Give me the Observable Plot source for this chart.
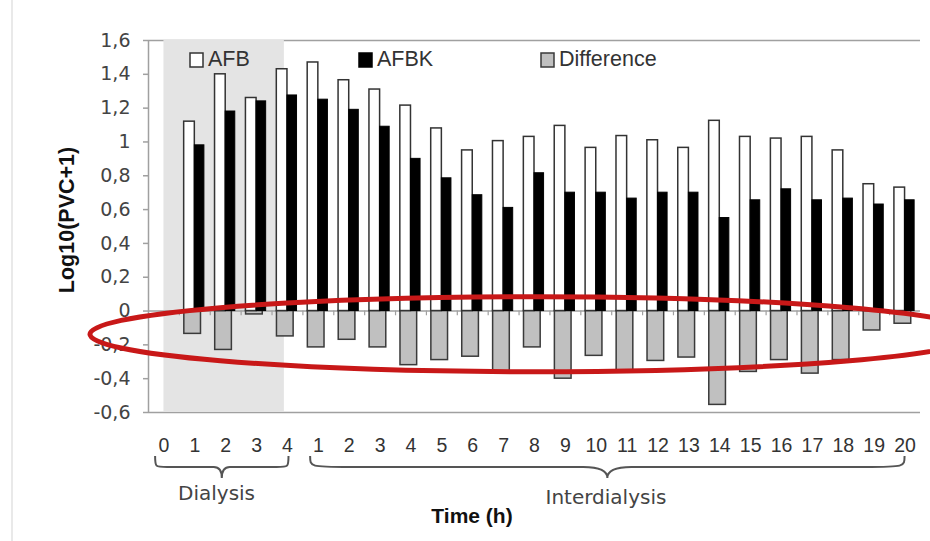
<!DOCTYPE html>
<html><head><meta charset="utf-8">
<script src="https://cdn.jsdelivr.net/npm/d3@7"></script>
<script src="https://cdn.jsdelivr.net/npm/@observablehq/plot@0.6"></script>
<style>html,body{margin:0;padding:0;background:#fff;} #chart svg{display:block;}</style>
</head><body><div id="chart"></div>
<script>
// ---- data ----
const timeLabels = ["0","1","2","3","4","1","2","3","4","5","6","7","8","9","10","11","12","13","14","15","16","17","18","19","20"];
const afb  = [null,1.12,1.40,1.26,1.43, 1.47,1.365,1.31,1.215,1.08,0.95,1.005,1.03,1.095,0.965,1.035,1.01,0.965,1.125,1.03,1.02,1.03,0.95,0.75,0.73];
const afbk = [null,0.98,1.18,1.24,1.275, 1.25,1.19,1.09,0.90,0.785,0.685,0.61,0.815,0.70,0.70,0.665,0.70,0.70,0.55,0.655,0.72,0.655,0.665,0.63,0.655];
const diff = [null,-0.135,-0.23,-0.02,-0.15, -0.215,-0.17,-0.215,-0.32,-0.29,-0.27,-0.37,-0.215,-0.40,-0.265,-0.355,-0.295,-0.275,-0.555,-0.36,-0.29,-0.37,-0.29,-0.115,-0.075];
const yTicks = [-0.6,-0.4,-0.2,0,0.2,0.4,0.6,0.8,1,1.2,1.4,1.6];
const seriesNames = ["AFB","AFBK","Difference"];
const dialysisSpan = {from: 0, to: 3.9};            // shaded dialysis period (index units)
const braces = [
  {label:"Dialysis", from:-0.27, to:4.05, labelX:1.72, endLen:12, tipLen:8, labelY:500},
  {label:"Interdialysis", from:4.75, to:24.0, labelX:14.33, endLen:40, tipLen:24, labelY:504}
];
const highlight = {x:12.03, y:-0.14, rx:14.41, ry:0.222};

const rows = timeLabels.map((t,i)=>({i, t, afb:afb[i], afbk:afbk[i], diff:diff[i]})).filter(d=>d.afb!=null);
const boundaries = d3.range(timeLabels.length-1).map(k=>k+0.5);

const chart = Plot.plot({
  width:930, height:541,
  marginLeft:148, marginRight:10, marginTop:40, marginBottom:129,
  style:{fontFamily:"'Liberation Sans', Arial, sans-serif", background:"#fff", overflow:"visible"},
  x:{type:"linear", domain:[-0.5, timeLabels.length-0.5], axis:null},
  y:{domain:[-0.6,1.6], axis:null},
  marks:[
    Plot.ruleY([1.6,-0.6], {stroke:"#a0a0a0", strokeWidth:1.5}),
    Plot.rect([dialysisSpan], {x1:"from", x2:"to", y1:-0.6, y2:1.6, fill:"#e4e4e4"}),
    Plot.ruleX([-0.5], {stroke:"#a0a0a0", strokeWidth:1.5}),
    Plot.ruleY([0], {stroke:"#a0a0a0", strokeWidth:1.5}),
    Plot.ruleX(boundaries, {y1:0, y2:-0.028, stroke:"#a0a0a0", strokeWidth:1.2}),
    Plot.axisY({ticks:yTicks, tickFormat:d=>String(d).replace(".",","), tickSize:5, tickPadding:13,
      label:null, fontSize:19, fontFamily:"'DejaVu Sans', sans-serif", fill:"#444", stroke:"#a0a0a0", strokeWidth:1.5}),
    Plot.axisX({ticks:d3.range(timeLabels.length), tickFormat:i=>timeLabels[i], tickSize:0, tickPadding:26,
      label:null, fontSize:19.5, fill:"#333"}),
    Plot.rect(rows, {x1:d=>d.i-0.34, x2:d=>d.i+0.2, y1:0, y2:"diff", fill:"#c0c0c0", stroke:"#3a3a3a", strokeWidth:1.5}),
    Plot.rect(rows, {x1:d=>d.i-0.345, x2:d=>d.i, y1:0, y2:"afb", fill:"#fff", stroke:"#333", strokeWidth:1.5}),
    Plot.rect(rows, {x1:d=>d.i, x2:d=>d.i+0.31, y1:0, y2:"afbk", fill:"#000", stroke:"#000", strokeWidth:1})
  ]
});
document.getElementById("chart").appendChild(chart);

const svg = d3.select(chart);
const xs = chart.scale("x"), ys = chart.scale("y");
const bottom = ys.apply(-0.6);

// faint left border of the original picture
svg.append("line").attr("x1",12).attr("x2",12).attr("y1",0).attr("y2",541).attr("stroke","#e2e2e2").attr("stroke-width",1.5);

// legend
const legend = [
  {name:seriesNames[0], sx:190, fill:"#fff", stroke:"#333"},
  {name:seriesNames[1], sx:359, fill:"#000", stroke:"#000"},
  {name:seriesNames[2], sx:541, fill:"#c0c0c0", stroke:"#3a3a3a"}
];
legend.forEach(l=>{
  svg.append("rect").attr("x",l.sx).attr("y",53).attr("width",13).attr("height",14)
    .attr("fill",l.fill).attr("stroke",l.stroke).attr("stroke-width",1.5);
  svg.append("text").attr("x",l.sx+18).attr("y",66).attr("text-anchor","start").attr("font-size",21.5).attr("fill","#333")
    .attr("font-family","'Liberation Sans', Arial, sans-serif").text(l.name);
});

// y-axis title
svg.append("text").attr("transform","translate(74,220) rotate(-90)").attr("text-anchor","middle")
  .attr("font-size",21.5).attr("font-weight","bold").attr("fill","#111")
  .attr("font-family","'Liberation Sans', Arial, sans-serif").text("Log10(PVC+1)");

// braces + phase labels
braces.forEach(b=>{
  const x0 = xs.apply(b.from), x1 = xs.apply(b.to), xm = (x0+x1)/2;
  const yT = bottom+44, yF = bottom+55, yTip = bottom+66;
  const p = `M${x0},${yT} C${x0},${yF} ${x0},${yF} ${x0+b.endLen},${yF} L${xm-b.tipLen},${yF} Q${xm},${yF} ${xm},${yTip} Q${xm},${yF} ${xm+b.tipLen},${yF} L${x1-b.endLen},${yF} C${x1},${yF} ${x1},${yF} ${x1},${yT}`;
  svg.append("path").attr("d",p).attr("fill","none").attr("stroke","#555").attr("stroke-width",2);
  svg.append("text").attr("x",xs.apply(b.labelX)).attr("y",b.labelY).attr("text-anchor","middle")
    .attr("font-size",20).attr("fill","#444").attr("font-family","'DejaVu Sans', sans-serif").text(b.label);
});

// x-axis title
svg.append("text").attr("x",472).attr("y",523).attr("text-anchor","middle")
  .attr("font-size",21).attr("font-weight","bold").attr("fill","#111")
  .attr("font-family","'Liberation Sans', Arial, sans-serif").text("Time (h)");

// red highlight ellipse
const cx = xs.apply(highlight.x), cy = ys.apply(highlight.y);
svg.append("ellipse").attr("cx",cx).attr("cy",cy)
  .attr("rx",xs.apply(highlight.x+highlight.rx)-cx).attr("ry",ys.apply(highlight.y-highlight.ry)-cy)
  .attr("fill","none").attr("stroke","#c81818").attr("stroke-width",5);
</script></body></html>
